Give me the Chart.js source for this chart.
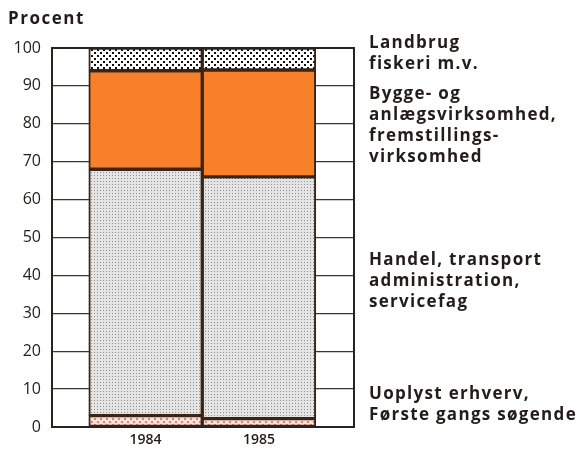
<!DOCTYPE html>
<html>
<head>
<meta charset="utf-8">
<style>
  html, body { margin: 0; padding: 0; background: #fff; }
  #wrap { position: relative; width: 580px; height: 449px; }
</style>
<script src="https://cdn.jsdelivr.net/npm/chart.js@4"></script>
</head>
<body>
<div id="wrap"><canvas id="chart" width="580" height="449"></canvas></div>
<script>
// data (percent of total)
const years = [1984, 1985];
const uoplyst = [3, 2.2];
const handel = [65, 63.8];
const bygge = [26, 28.2];
const landbrug = [6, 5.8];
const yTicks = [0, 10, 20, 30, 40, 50, 60, 70, 80, 90, 100];

const labelUoplyst = ["Uoplyst erhverv,", "Første gangs søgende"];
const labelHandel = ["Handel, transport", "administration,", "servicefag"];
const labelBygge = ["Bygge- og", "anlægsvirksomhed,", "fremstillings-", "virksomhed"];
const labelLandbrug = ["Landbrug", "fiskeri m.v."];

// PATTERNS
function makePattern(size, bg, dot, dots, dotSize) {
    const c = document.createElement("canvas");
    c.width = size; c.height = size;
    const g = c.getContext("2d");
    g.fillStyle = bg;
    g.fillRect(0, 0, size, size);
    g.fillStyle = dot;
    dots.forEach(([x, y]) => g.fillRect(x, y, dotSize, dotSize));
    return g.createPattern(c, "repeat");
}
const ctx = document.getElementById("chart").getContext("2d");
const patLandbrug = makePattern(6, "#ffffff", "#111111", [[1, 1], [4, 4]], 2);
const patHandel = makePattern(3, "#e4e4e4", "#8e8e8e", [[1, 1]], 1);
const patUoplyst = makePattern(6, "#f9e1d8", "#d9826a", [[1, 1], [4, 4]], 2);

// side labels + frame
const sideLabels = {
    id: "sideLabels",
    afterDraw(chart) {
        const { ctx, chartArea: a } = chart;
        ctx.save();
        ctx.strokeStyle = "#2a2220";
        ctx.lineWidth = 2;
        ctx.strokeRect(a.left, a.top, a.right - a.left, a.bottom - a.top);

        ctx.fillStyle = "#231c1a";
        ctx.textAlign = "left";
        ctx.textBaseline = "alphabetic";
        ctx.letterSpacing = "1.5px";
        ctx.font = "bold 17px 'Open Sans'";
        ctx.fillText("Procent", 8, 24);

        ctx.font = "bold 17px 'Open Sans'";
        ctx.letterSpacing = "1.3px";
        const x = 369;
        const put = (lines, y0) => lines.forEach((t, i) => ctx.fillText(t, x, y0 + i * 21));
        put(labelLandbrug, 48);
        put(labelBygge, 99);
        put(labelHandel, 265);
        put(labelUoplyst, 399);
        ctx.restore();
    }
};

const border = "#3a2418";
new Chart(ctx, {
    type: "bar",
    data: {
        datasets: [
            { label: "Uoplyst", data: years.map((y, i) => ({ x: y, y: uoplyst[i] })), backgroundColor: patUoplyst },
            { label: "Handel", data: years.map((y, i) => ({ x: y, y: handel[i] })), backgroundColor: patHandel },
            { label: "Bygge", data: years.map((y, i) => ({ x: y, y: bygge[i] })), backgroundColor: "#f8802a" },
            { label: "Landbrug", data: years.map((y, i) => ({ x: y, y: landbrug[i] })), backgroundColor: patLandbrug }
        ].map(d => Object.assign(d, {
            borderColor: border,
            borderWidth: 2,
            borderSkipped: false,
            barPercentage: 1,
            categoryPercentage: 1
        }))
    },
    options: {
        responsive: false,
        animation: false,
        layout: { padding: { top: 48, right: 226, left: 0, bottom: 0 } },
        plugins: { legend: { display: false }, tooltip: { enabled: false } },
        scales: {
            x: {
                type: "linear",
                stacked: true,
                offset: false,
                bounds: "data",
                min: 1983.176,
                max: 1985.837,
                afterBuildTicks: s => { s.ticks = years.map(v => ({ value: v })); },
                afterFit: s => { s.height = 22; },
                grid: { display: false, drawTicks: false, offset: false },
                border: { display: false },
                ticks: {
                    padding: 5,
                    color: "#231c1a",
                    font: { family: "Open Sans", size: 14, weight: "600" },
                    callback: v => String(v)
                }
            },
            y: {
                stacked: true,
                min: 0,
                max: 100,
                afterBuildTicks: s => { s.ticks = yTicks.map(v => ({ value: v })); },
                afterFit: s => { s.width = 52; },
                grid: { color: "#3a3432", lineWidth: 1.3, drawTicks: false },
                border: { display: false },
                ticks: {
                    padding: 11,
                    color: "#231c1a",
                    font: { family: "Open Sans", size: 16 }
                }
            }
        }
    },
    plugins: [sideLabels]
});
</script>
</body>
</html>
